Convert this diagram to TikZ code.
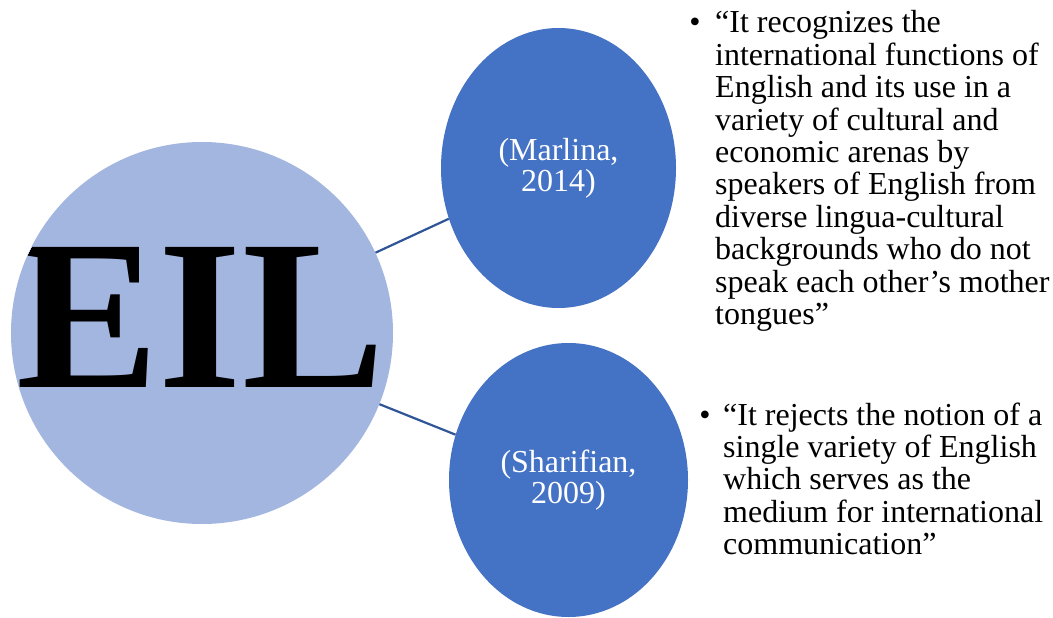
\documentclass[tikz,border=0pt]{standalone}
\usepackage{fontspec}
\setmainfont{Liberation Serif}
\usetikzlibrary{shapes.geometric}
\definecolor{eilfill}{HTML}{A3B6DF}
\definecolor{refblue}{HTML}{4472C4}
\definecolor{linkblue}{HTML}{2F5597}
\begin{document}
\begin{tikzpicture}[x=1pt,y=-1pt,
  refnode/.style={ellipse, fill=refblue, text=white, inner sep=0pt, align=center,
                  font=\fontsize{32}{31}\selectfont},
  link/.style={draw=linkblue, line width=2.2pt},
  quote/.style={anchor=base west, inner sep=0pt, font=\fontsize{32}{32.4}\selectfont},
  dot/.style={anchor=base, inner sep=0pt, font=\fontsize{32}{32.4}\selectfont}]
\useasboundingbox (0,0) rectangle (1053,618);

% central circle with the large lettering, clipped to the disc
\node[circle, fill=eilfill, minimum size=382pt, inner sep=0pt] (eil) at (202,333) {};
\begin{scope}
  \clip (202,333) circle (191pt);
  \node[anchor=base west, inner sep=0pt,
        font=\bfseries\fontsize{214}{214}\selectfont] (eiltext) at (16,387) {EIL};
\end{scope}

% the two sources
\node[refnode, minimum width=235pt, minimum height=280pt] (marlina) at (558.5,168)
  {(Marlina,\\2014)};
\node[refnode, minimum width=239pt, minimum height=274pt] (sharifian) at (568.5,480)
  {(Sharifian,\\2009)};

% connectors
\draw[link] (eil) -- (marlina);
\draw[link] (eil) -- (sharifian);

% quotations
\node[dot] (dot1) at (695,33) {\textbullet};
\node[quote] (quote1) at (715,33) {\begin{tabular}[t]{@{}l@{}}
“It recognizes the\\
international functions of\\
English and its use in a\\
variety of cultural and\\
economic arenas by\\
speakers of English from\\
diverse lingua-cultural\\
backgrounds who do not\\
speak each other’s mother\\
tongues”
\end{tabular}};

\node[dot] (dot2) at (705,425) {\textbullet};
\node[quote] (quote2) at (723,425) {\begin{tabular}[t]{@{}l@{}}
“It rejects the notion of a\\
single variety of English\\
which serves as the\\
medium for international\\
communication”
\end{tabular}};
\end{tikzpicture}
\end{document}
